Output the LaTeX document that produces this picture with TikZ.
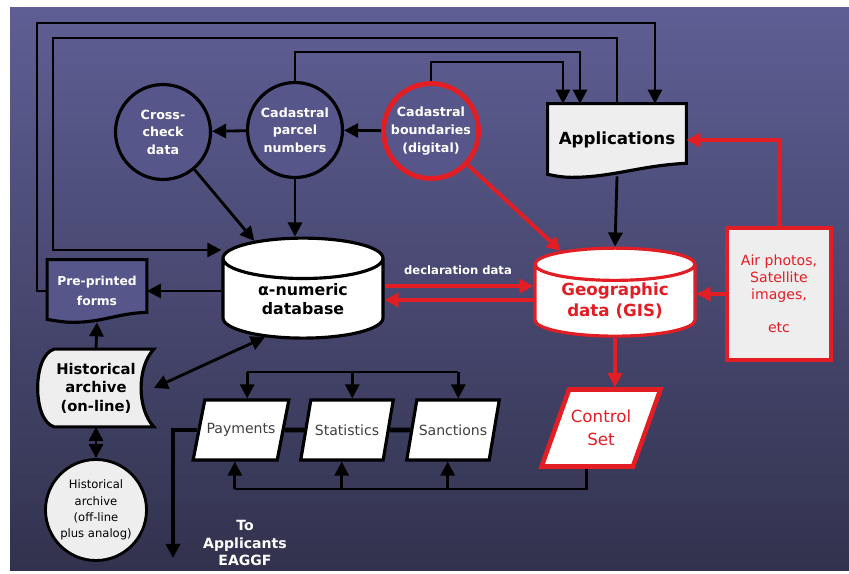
\documentclass[tikz,border=0pt]{standalone}
\usepackage{fontspec}
\setmainfont{DejaVu Sans}
\usetikzlibrary{shapes.geometric,arrows.meta,backgrounds}
\definecolor{slatetop}{RGB}{94,94,148}
\definecolor{slatemid}{RGB}{74,74,118}
\definecolor{slatebot}{RGB}{50,50,78}
\definecolor{circfill}{RGB}{86,86,138}
\definecolor{gisred}{RGB}{226,30,36}
\definecolor{paperwhite}{RGB}{238,238,238}
\tikzset{
  blk/.style={draw=black, line width=1.6pt},
  rd/.style={draw=gisred, line width=2.2pt},
  bubble/.style={circle, draw=black, line width=1.8pt, fill=circfill, text=white,
    minimum size=1.9cm, inner sep=0pt, align=center, font=\fontsize{7.2}{10}\selectfont\bfseries},
  cyl/.style={cylinder, shape border rotate=90, aspect=0.45, draw=black, line width=1.8pt,
    fill=white, inner sep=0pt, minimum width=3.2cm, minimum height=2cm, align=center,
    font=\fontsize{9}{11}\selectfont\bfseries},
  sheet/.style={rectangle, inner sep=0pt, align=center},
  para/.style={trapezium, trapezium left angle=55, trapezium right angle=125,
    trapezium stretches body, draw=black, line width=1.8pt, fill=white,
    minimum height=1.2cm, minimum width=1.85cm, inner sep=1pt, text=black!75,
    align=center, font=\fontsize{8}{10}\selectfont},
  note/.style={text=white, align=center, font=\fontsize{8}{10}\selectfont\bfseries},
}
\begin{document}
\begin{tikzpicture}[x=0.02cm, y=-0.02cm, >={Triangle[length=8pt,width=8pt]}]
\useasboundingbox (0,0) rectangle (849,574);
% sources
\node[bubble] (check) at (163,132) {Cross-\\check\\data};
\node[bubble] (parcel) at (295,130) {Cadastral\\parcel\\numbers};
\node[bubble, draw=gisred, line width=2.8pt] (bound) at (431,131) {Cadastral\\boundaries\\(digital)};
\node[sheet, minimum width=2.76cm, minimum height=1.44cm, font=\fontsize{9.5}{11}\selectfont\bfseries] (apps) at (617,140) {Applications};
\node[sheet, minimum width=1.98cm, minimum height=1.24cm, text=white, font=\fontsize{7}{11}\selectfont\bfseries] (forms) at (97,291) {Pre-printed\\forms};
% data stores
\node[cyl] (db) at (303,299) {α-numeric\\database};
\node[cyl, aspect=0.3, minimum height=1.76cm, draw=gisred, text=gisred, font=\fontsize{9.5}{12}\selectfont\bfseries] (gis) at (615,301) {Geographic\\data (GIS)};
\node[rectangle, draw=gisred, line width=1.8pt, fill=paperwhite, text=gisred, minimum width=2.08cm, minimum height=2.64cm, align=center, font=\fontsize{8}{9.6}\selectfont] (photo) at (779,294) {Air photos,\\Satellite\\images,\\[9.6pt]etc};
% archives
\node[sheet, minimum width=2.3cm, minimum height=1.54cm, font=\fontsize{8.4}{10.5}\selectfont\bfseries] (hon) at (96,388) {Historical\\archive\\(on-line)};
\node[circle, draw=black, line width=1.6pt, fill=paperwhite, minimum size=2.02cm, inner sep=0pt, align=center, font=\fontsize{6.6}{9.3}\selectfont] (hoff) at (96,510) {Historical\\archive\\(off-line\\plus analog)};
% outputs
\node[para] (pay) at (241,430) {Payments};
\node[para] (stat) at (347,430) {Statistics};
\node[para] (sanc) at (453,430) {Sanctions};
\node[para, draw=gisred, line width=2.6pt, text=gisred, minimum height=1.54cm, minimum width=2.0cm, font=\fontsize{9.5}{13}\selectfont] (ctrl) at (601,428) {Control\\Set};
\node[note, font=\fontsize{6.6}{8}\selectfont\bfseries] (decl) at (458,270) {declaration data};
\node[note] (toapp) at (245,543) {To\\Applicants\\EAGGF};
\coordinate (out) at (173,558);

% long loops over the top
\draw[blk,->] (forms.west) -| (37,23) -| (apps.north -| 655,0);
\draw[blk,->] (apps.north) |- (53,38) |- (db.west |- 0,250);
\draw[blk,->] (parcel.north) |- (580,52) -- (apps.north -| 580,0);
\draw[blk,->] (bound.north) |- (563,62) -- (apps.north -| 563,0);
% cadastral flows
\draw[blk,->] (bound) -- (parcel);
\draw[blk,->] (parcel) -- (check);
\draw[blk,->] (check) -- (db);
\draw[blk,->] (parcel.south) -- (parcel.south |- db.north);
\draw[rd,->] (bound) -- (gis);
\draw[blk,->] (apps.south) -- (gis.north);
\draw[rd,->] (photo.north) |- (apps.east);
\draw[rd,->] (photo.west) -- (photo.west -| gis.east);
\draw[rd,->] (db.east |- 0,286) -- (gis.west |- 0,286);
\draw[rd,->] (gis.west |- 0,300) -- (db.east |- 0,300);
\draw[rd,->] (gis.south) -- (gis.south |- ctrl.north);
% archive side
\draw[blk,->] (db.west |- 0,291) -- (forms.east);
\draw[blk,->] (hon.north) -- (forms.south);
\draw[blk,<->] (hon.east) -- (db.south west);
\draw[blk,<->] (hon.south) -- (hoff.north);
% payments row
\draw[blk] (pay.top side |- 0,372) -- (sanc.top side |- 0,372);
\foreach \n in {pay,stat,sanc}
  \draw[blk,->] (\n.top side |- 0,372) -- (\n.top side);
\draw[blk] (ctrl.bottom side) |- (pay.bottom side |- 0,489);
\foreach \n in {pay,stat,sanc}
  \draw[blk,->] (\n.bottom side |- 0,489) -- (\n.bottom side);
\draw[blk, line width=2.6pt] (sanc.west) -- (stat.east) (stat.west) -- (pay.east);
\draw[blk, line width=2.6pt,->] (pay.west) -| (out);

\begin{scope}[on background layer]
\fill[white] (0,0) rectangle (849,574);
\shade[top color=slatetop, middle color=slatemid, bottom color=slatebot] (10,8) rectangle (849,570);
% document outlines
\filldraw[blk, line width=1.8pt, fill=paperwhite] (apps.north west) -- (apps.north east)
  -- ([shift={(0,-13)}]apps.south east)
  .. controls +(-45,2) and +(40,0) .. ([shift={(-45,1)}]apps.south)
  .. controls +(-12,0) and +(6,1) .. ([shift={(0,-2)}]apps.south west) -- cycle;
\filldraw[blk, line width=1.8pt, fill=circfill] (forms.north west) -- (forms.north east)
  -- ([shift={(0,-10)}]forms.south east)
  .. controls +(-30,1) and +(30,0) .. ([shift={(-24,0)}]forms.south)
  .. controls +(-10,0) and +(6,1) .. ([shift={(0,-3)}]forms.south west) -- cycle;
\filldraw[blk, line width=1.8pt, fill=paperwhite] ([shift={(16,0)}]hon.north west) -- (hon.north east)
  .. controls +(-17,18) and +(-17,-18) .. (hon.south east)
  -- ([shift={(16,0)}]hon.south west)
  .. controls +(-22,-6) and +(-22,6) .. ([shift={(16,0)}]hon.north west) -- cycle;
\end{scope}
\end{tikzpicture}
\end{document}
